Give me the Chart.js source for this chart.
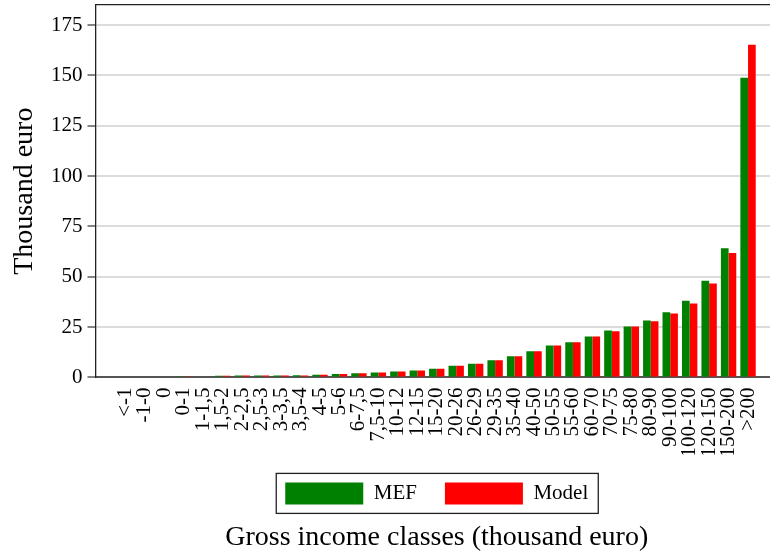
<!DOCTYPE html>
<html lang="en">

<head>
    <meta charset="UTF-8">
    <title>Gross income classes</title>
    <script src="https://cdn.jsdelivr.net/npm/chart.js"></script>
    <style>
        html, body { margin: 0; padding: 0; overflow: hidden; background: #fff; }
        #wrap { position: relative; width: 780px; height: 556px; }
    </style>
</head>

<body>
    <div id="wrap"><canvas id="incomeChart"></canvas></div>
    <script>
        // income classes (thousand euro)
        const classes = ['<-1', '-1-0', '0', '0-1', '1-1,5', '1,5-2', '2-2,5', '2,5-3', '3-3,5', '3,5-4',
            '4-5', '5-6', '6-7,5', '7,5-10', '10-12', '12-15', '15-20', '20-26', '26-29', '29-35',
            '35-40', '40-50', '50-55', '55-60', '60-70', '70-75', '75-80', '80-90', '90-100',
            '100-120', '120-150', '150-200', '>200'];

        // values (thousand euro)
        const mefValues = [0, 0, 0, 0.3, 0.4, 0.8, 0.9, 0.9, 1.0, 1.1,
            1.3, 1.7, 2.0, 2.4, 2.9, 3.4, 4.3, 5.8, 6.8, 8.5,
            10.5, 13.0, 15.8, 17.4, 20.3, 23.3, 25.3, 28.3, 32.4,
            38.1, 48.0, 64.2, 148.9];
        const modelValues = [0, 0, 0, 0.3, 0.4, 0.8, 0.9, 0.9, 1.0, 1.0,
            1.3, 1.7, 2.0, 2.4, 2.9, 3.4, 4.3, 5.8, 6.8, 8.5,
            10.5, 13.0, 15.8, 17.4, 20.3, 22.9, 25.3, 27.9, 31.8,
            36.7, 46.7, 61.8, 165.3];

        const yTicks = [0, 25, 50, 75, 100, 125, 150, 175];

        const serif = 'Liberation Serif';
        Chart.defaults.font.family = serif;
        Chart.defaults.color = '#000';

        // x is a linear index so the first/last class sit away from the axes like the original
        const xMin = -1.54;
        const xMax = classes.length - 1 + 1.54;

        // frame around the legend items
        const legendFrame = {
            id: 'legendFrame',
            afterDraw(chart) {
                const boxes = chart.legend.legendHitBoxes;
                if (!boxes || !boxes.length) return;
                const first = boxes[0];
                const last = boxes[boxes.length - 1];
                const ctx = chart.ctx;
                ctx.save();
                ctx.strokeStyle = '#222';
                ctx.lineWidth = 1.3;
                ctx.strokeRect(first.left - 9, first.top - 9,
                    last.left + last.width + 10 - (first.left - 9), first.height + 18);
                ctx.restore();
            }
        };

        new Chart(document.getElementById('incomeChart'), {
            type: 'bar',
            data: {
                datasets: [
                    {
                        label: 'MEF',
                        data: classes.map((c, i) => ({ x: i, y: mefValues[i] })),
                        backgroundColor: '#008000',
                        borderWidth: 0
                    },
                    {
                        label: 'Model',
                        data: classes.map((c, i) => ({ x: i, y: modelValues[i] })),
                        backgroundColor: '#ff0000',
                        borderWidth: 0
                    }
                ]
            },
            options: {
                responsive: true,
                maintainAspectRatio: false,
                animation: false,
                categoryPercentage: 0.79,
                barPercentage: 1.0,
                layout: { padding: { top: 5, right: 2, bottom: 0, left: 0 } },
                scales: {
                    x: {
                        type: 'linear',
                        position: 'bottom',
                        offset: false,
                        min: xMin,
                        max: xMax,
                        grid: { display: false, drawTicks: false, offset: false },
                        border: { color: '#555', width: 2 },
                        ticks: {
                            stepSize: 1,
                            includeBounds: false,
                            autoSkip: false,
                            maxRotation: 90,
                            minRotation: 90,
                            padding: 10,
                            font: { size: 21 },
                            callback: v => (Number.isInteger(v) && classes[v] !== undefined) ? classes[v] : ''
                        },
                        afterFit: axis => {
                            axis.height = 77;
                            axis.paddingLeft = 0;
                            axis.paddingRight = 0;
                        }
                    },
                    top: {
                        type: 'linear',
                        position: 'top',
                        display: true,
                        offset: false,
                        min: xMin,
                        max: xMax,
                        grid: { display: false, drawTicks: false },
                        ticks: { display: false },
                        border: { color: '#222', width: 1.3 },
                        afterFit: axis => {
                            axis.height = 0;
                            axis.paddingLeft = 0;
                            axis.paddingRight = 0;
                        }
                    },
                    y: {
                        min: 0,
                        max: 185,
                        grid: {
                            color: '#dcdcdc',
                            lineWidth: 2,
                            tickLength: 8,
                            tickColor: '#333',
                            tickWidth: 1.2
                        },
                        border: { color: '#222', width: 1.3 },
                        afterBuildTicks: axis => { axis.ticks = yTicks.map(v => ({ value: v })); },
                        ticks: { padding: 5, font: { size: 21 } },
                        title: {
                            display: true,
                            text: 'Thousand euro',
                            font: { size: 28 },
                            padding: { top: 8, bottom: 0 }
                        },
                        afterFit: axis => {
                            axis.width = 95.5;
                            axis.paddingTop = 0;
                            axis.paddingBottom = 0;
                        }
                    }
                },
                plugins: {
                    legend: {
                        position: 'bottom',
                        fullSize: false,
                        labels: {
                            boxWidth: 78,
                            boxHeight: 22,
                            padding: 28,
                            font: { size: 21 }
                        }
                    },
                    title: {
                        display: true,
                        position: 'bottom',
                        fullSize: false,
                        text: 'Gross income classes (thousand euro)',
                        font: { size: 28, weight: 'normal' },
                        padding: { top: 6, bottom: 2 }
                    },
                    tooltip: { enabled: false }
                }
            },
            plugins: [legendFrame]
        });
    </script>
</body>

</html>
